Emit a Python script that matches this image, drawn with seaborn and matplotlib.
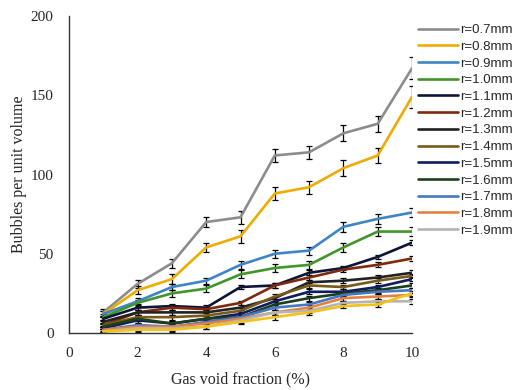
import numpy as np
import pandas as pd
import matplotlib
matplotlib.use("Agg")
import matplotlib.pyplot as plt
import seaborn as sns

# gas void fraction (%)
void_frac = [1, 2, 3, 4, 5, 6, 7, 8, 9, 10]

radii = ["r=0.7mm", "r=0.8mm", "r=0.9mm", "r=1.0mm", "r=1.1mm", "r=1.2mm", "r=1.3mm",
         "r=1.4mm", "r=1.5mm", "r=1.6mm", "r=1.7mm", "r=1.8mm", "r=1.9mm", "r=2.0mm"]

r07 = [13, 31, 44, 70, 73, 112, 114, 126, 132, 167]
r08 = [12, 27, 34, 54, 61, 88, 92, 104, 112, 149]
r09 = [12, 20, 29, 33, 43, 50, 52, 67, 72, 76]
r10 = [10, 19, 25, 28, 37, 41, 43, 54, 64, 64]
r11 = [9, 16, 17, 16, 29, 30, 38, 41, 48, 57]
r12 = [5, 13, 16, 15, 19, 30, 35, 40, 43, 47]
r13 = [7, 13, 13, 13, 16, 22, 32, 33, 35, 38]
r14 = [5, 10, 10, 11, 14, 23, 30, 29, 33, 36]
r15 = [3, 8, 6, 9, 12, 20, 26, 26, 29, 34]
r16 = [4, 9, 6, 9, 10, 18, 22, 25, 27, 30]
r17 = [2, 5, 4, 7, 10, 16, 18, 24, 26, 27]
r18 = [2, 4, 4, 6, 9, 13, 16, 22, 23, 24]
r19 = [1, 3, 3, 4, 8, 13, 14, 19, 20, 20]
r20 = [1, 2, 2, 4, 7, 10, 13, 17, 18, 25]

series = [r07, r08, r09, r10, r11, r12, r13, r14, r15, r16, r17, r18, r19, r20]

# error bar half-widths
err_big = [2, 2.5, 3, 3, 4, 4, 4, 5, 5, 7]
err_mid = [2, 2, 2, 2, 2.5, 2.5, 2.5, 3, 3, 3]
err_small = [1.5, 1.5, 1.5, 1.5, 1.5, 1.5, 1.5, 1.5, 1.5, 1.5]
errors = [err_big, err_big, err_mid, err_mid] + [err_small] * 10

colors = ["#8c8c8c", "#eeac00", "#3d85c6", "#41962a", "#0c1535", "#7e2a0c", "#222222",
          "#7a5a18", "#101c60", "#1c3f1c", "#4677c4", "#e3823e", "#b4b4b4", "#f2c21a"]

rows = []
for name, vals in zip(radii, series):
    for x, v in zip(void_frac, vals):
        rows.append({"void": x, "count": v, "radius": name})
df = pd.DataFrame(rows)

sns.set_style("white")
plt.rcParams["font.family"] = ["Liberation Serif", "DejaVu Serif"]

fig = plt.figure(figsize=(5.19, 3.9), dpi=100)
ax = fig.add_axes([69 / 519, 1 - 333 / 390, (412 - 69) / 519, (333 - 16) / 390])

for name, vals, err in zip(radii, series, errors):
    ax.errorbar(void_frac, vals, yerr=err, fmt="none", ecolor="black",
                elinewidth=0.9, capsize=2.5, capthick=0.9, zorder=1)

sns.lineplot(data=df, x="void", y="count", hue="radius", hue_order=radii,
             palette=colors, linewidth=1.9, ax=ax, zorder=2)

ax.set_xlim(0, 10)
ax.set_ylim(0, 200)
ax.set_xticks([0, 2, 4, 6, 8, 10])
ax.set_yticks([0, 50, 100, 150, 200])
ax.tick_params(axis="both", length=0, labelsize=11)
ax.tick_params(axis="x", pad=10)
ax.tick_params(axis="y", pad=11)
sns.despine(ax=ax)
for s in ["left", "bottom"]:
    ax.spines[s].set_color("#333333")
    ax.spines[s].set_linewidth(1.0)
ax.set_xlabel("Gas void fraction (%)", fontsize=11.5, labelpad=8)
ax.set_ylabel("Bubbles per unit volume", fontsize=11.5, labelpad=3)

handles, labels = ax.get_legend_handles_labels()
leg = ax.legend(handles[:13], labels[:13], loc="upper left", bbox_to_anchor=(0.995, 1.0),
                frameon=False, handlelength=3.0, handletextpad=0.15, labelspacing=0.34,
                borderaxespad=0.2, prop={"family": "Liberation Sans", "size": 9.5})

fig.savefig("out.png", dpi=100)
